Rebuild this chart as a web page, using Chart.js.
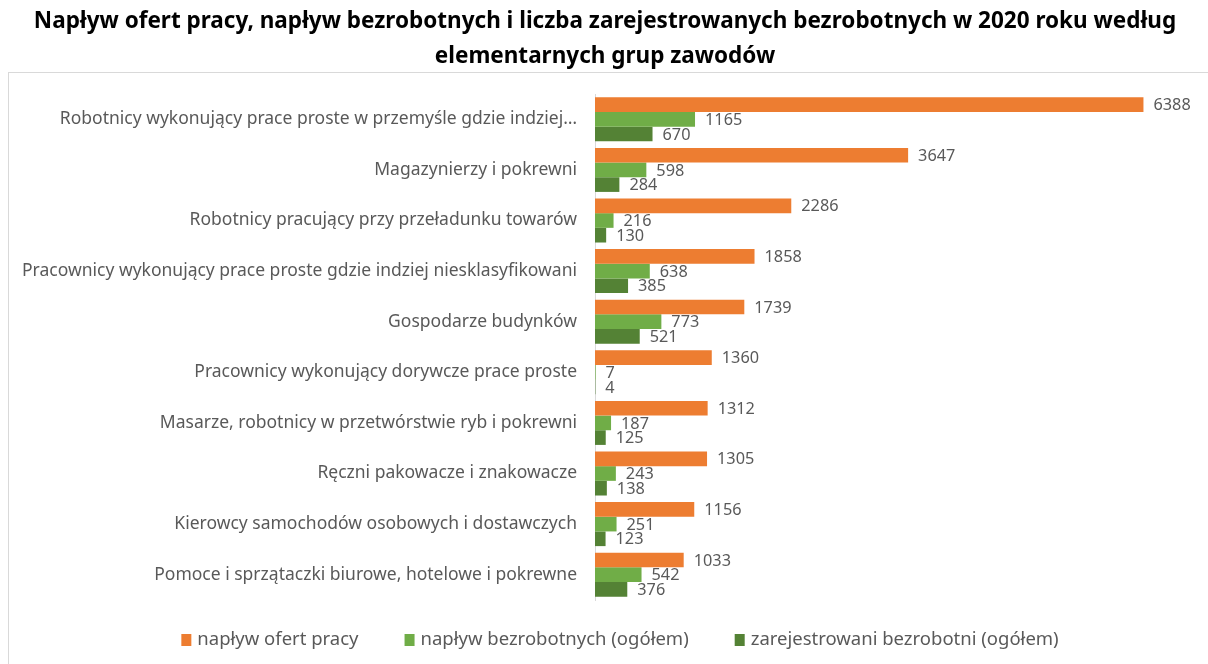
<!DOCTYPE html>
<html>
<head>
<meta charset="utf-8">
<script src="https://cdn.jsdelivr.net/npm/chart.js@4.4.1/dist/chart.umd.min.js"></script>
<style>
  html, body { margin: 0; padding: 0; background: #fff; }
  #wrap { width: 1208px; height: 664px; position: relative; }
</style>
</head>
<body>
<div id="wrap"><canvas id="chart"></canvas></div>
<script>
const titleLines = [
    'Napływ ofert pracy, napływ bezrobotnych i liczba zarejestrowanych bezrobotnych w 2020 roku według',
    'elementarnych grup zawodów'
];
const categories = [
    'Robotnicy wykonujący prace proste w przemyśle gdzie indziej…',
    'Magazynierzy i pokrewni',
    'Robotnicy pracujący przy przeładunku towarów',
    'Pracownicy wykonujący prace proste gdzie indziej niesklasyfikowani',
    'Gospodarze budynków',
    'Pracownicy wykonujący dorywcze prace proste',
    'Masarze, robotnicy w przetwórstwie ryb i pokrewni',
    'Ręczni pakowacze i znakowacze',
    'Kierowcy samochodów osobowych i dostawczych',
    'Pomoce i sprzątaczki biurowe, hotelowe i pokrewne'
];
const seriesNames = ['napływ ofert pracy', 'napływ bezrobotnych (ogółem)', 'zarejestrowani bezrobotni (ogółem)'];
const ofertyPracy = [6388, 3647, 2286, 1858, 1739, 1360, 1312, 1305, 1156, 1033];
const naplywBezrobotnych = [1165, 598, 216, 638, 773, 7, 187, 243, 251, 542];
const zarejestrowani = [670, 284, 130, 385, 521, 4, 125, 138, 123, 376];
const colors = ['#ED7D31', '#70AD47', '#548235'];

const FONT = '"Noto Sans", "Open Sans", sans-serif';
const TEXT_COLOR = '#595959';

// tytuł, ramka, etykiety wartości i legenda rysowane ręcznie
const decorPlugin = {
    id: 'decor',
    beforeDraw(chart) {
        const ctx = chart.ctx;
        ctx.save();
        ctx.strokeStyle = '#d9d9d9';
        ctx.lineWidth = 1;
        ctx.strokeRect(8.5, 72.5, 1400, 800);
        ctx.fillStyle = '#000';
        ctx.font = 'bold 22.5px ' + FONT;
        ctx.textAlign = 'center';
        ctx.textBaseline = 'middle';
        ctx.fillText(titleLines[0], 605, 22);
        ctx.fillText(titleLines[1], 605, 57);
        ctx.restore();
    },
    afterDatasetsDraw(chart) {
        const ctx = chart.ctx;
        ctx.save();
        ctx.font = '16.3px ' + FONT;
        ctx.fillStyle = TEXT_COLOR;
        ctx.textAlign = 'left';
        ctx.textBaseline = 'middle';
        chart.data.datasets.forEach((ds, di) => {
            const meta = chart.getDatasetMeta(di);
            meta.data.forEach((bar, i) => {
                ctx.fillText(String(ds.data[i]), bar.x + 10, bar.y + 1);
            });
        });

        // legenda
        ctx.font = '18.5px ' + FONT;
        const box = 10, gapText = 6, gapItem = 46;
        const widths = chart.data.datasets.map(ds => box + gapText + ctx.measureText(ds.label).width);
        const total = widths.reduce((a, b) => a + b, 0) + gapItem * (widths.length - 1);
        let x = 620 - total / 2;
        const y = 640;
        chart.data.datasets.forEach((ds, di) => {
            ctx.fillStyle = ds.backgroundColor;
            ctx.fillRect(x, y - 6, box, 12);
            ctx.fillStyle = TEXT_COLOR;
            ctx.fillText(ds.label, x + box + gapText, y);
            x += widths[di] + gapItem;
        });
        ctx.restore();
    }
};

new Chart(document.getElementById('chart'), {
    type: 'bar',
    data: {
        labels: categories,
        datasets: [
            { label: seriesNames[0], data: ofertyPracy, backgroundColor: colors[0] },
            { label: seriesNames[1], data: naplywBezrobotnych, backgroundColor: colors[1] },
            { label: seriesNames[2], data: zarejestrowani, backgroundColor: colors[2] }
        ]
    },
    options: {
        indexAxis: 'y',
        responsive: true,
        maintainAspectRatio: false,
        animation: false,
        categoryPercentage: 0.87,
        barPercentage: 1.0,
        layout: { padding: { top: 94, bottom: 64, left: 0, right: 12 } },
        scales: {
            x: { display: false, min: 0, max: 7000 },
            y: {
                afterFit(scale) { scale.width = 595; },
                grid: { display: true, drawOnChartArea: false, drawTicks: false },
                border: { display: true, color: '#d9d9d9', width: 1 },
                ticks: { color: TEXT_COLOR, padding: 18, font: { family: FONT, size: 17.5 } }
            }
        },
        plugins: {
            legend: { display: false },
            title: { display: false },
            tooltip: { enabled: false }
        }
    },
    plugins: [decorPlugin]
});
</script>
</body>
</html>
